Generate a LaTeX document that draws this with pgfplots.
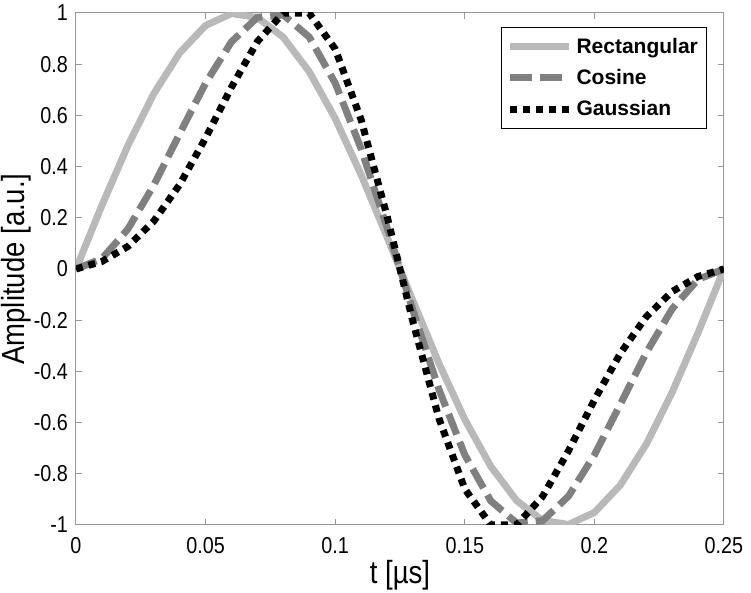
\documentclass[border=0pt]{standalone}
\usepackage{pgfplots}
\pgfplotsset{compat=1.18}
\usepackage{pgfplotstable}
\usepackage{fontspec}
\setmainfont{Liberation Sans}
\newfontfamily\narrowfont{Liberation Sans}[FakeStretch=0.86]
\definecolor{rectc}{RGB}{185,185,185}
\definecolor{cosc}{RGB}{128,128,128}
\definecolor{axc}{RGB}{150,150,150}

\pgfplotstableread{
t y
0 0
0.01 0.2487
0.02 0.4818
0.03 0.6845
0.04 0.8443
0.05 0.9511
0.06 0.9980
0.07 0.9823
0.08 0.9048
0.09 0.7705
0.10 0.5878
0.11 0.3681
0.12 0.1253
0.13 -0.1253
0.14 -0.3681
0.15 -0.5878
0.16 -0.7705
0.17 -0.9048
0.18 -0.9823
0.19 -0.9980
0.20 -0.9511
0.21 -0.8443
0.22 -0.6845
0.23 -0.4818
0.24 -0.2487
0.25 0
}\rectdata

\pgfplotstableread{
t y
0 0
0.01 0.0405
0.02 0.1556
0.03 0.3273
0.04 0.5285
0.05 0.7262
0.06 0.8875
0.07 0.9831
0.08 0.9924
0.09 0.9057
0.10 0.7262
0.11 0.4698
0.12 0.1625
0.13 -0.1625
0.14 -0.4698
0.15 -0.7262
0.16 -0.9057
0.17 -0.9924
0.18 -0.9831
0.19 -0.8875
0.20 -0.7262
0.21 -0.5285
0.22 -0.3273
0.23 -0.1556
0.24 -0.0405
0.25 0
}\cosdata

\pgfplotstableread{
t y
0 0
0.01 0.0293
0.02 0.0880
0.03 0.1866
0.04 0.3297
0.05 0.5117
0.06 0.7105
0.07 0.8888
0.08 1.0000
0.09 0.9993
0.10 0.8595
0.11 0.5831
0.12 0.2066
0.13 -0.2066
0.14 -0.5831
0.15 -0.8595
0.16 -0.9993
0.17 -1.0000
0.18 -0.8888
0.19 -0.7105
0.20 -0.5117
0.21 -0.3297
0.22 -0.1866
0.23 -0.0880
0.24 -0.0293
0.25 0
}\gaussdata

\begin{document}
\begin{tikzpicture}
\path[use as bounding box] (-38pt,-34pt) rectangle (337.5pt,262.5pt);
\begin{axis}[
  scale only axis,
  width=324pt, height=256pt,
  xmin=0, xmax=0.25, ymin=-1, ymax=1,
  xtick={0,0.05,0.1,0.15,0.2,0.25},
  ytick={-1,-0.8,-0.6,-0.4,-0.2,0,0.2,0.4,0.6,0.8,1},
  xticklabels={0,0.05,0.1,0.15,0.2,0.25},
  yticklabels={-1,-0.8,-0.6,-0.4,-0.2,0,0.2,0.4,0.6,0.8,1},
  tick align=inside,
  major tick length=3pt,
  axis line style={draw=axc, line width=0.5pt},
  every tick/.style={draw=axc, line width=0.5pt},
  tick label style={font=\narrowfont\fontsize{11.5}{13}\selectfont, text=black},
  xticklabel style={yshift=-2.5pt},
  yticklabel style={xshift=-0.5pt},
  xlabel={t [µs]},
  ylabel={Amplitude [a.u.]},
  every axis x label/.style={at={(axis description cs:0.5,-0.0977)}, anchor=center,
    font=\narrowfont\fontsize{16}{18}\selectfont},
  every axis y label/.style={at={(axis description cs:-0.093,0.5)}, anchor=center, rotate=90,
    font=\narrowfont\fontsize{16}{18}\selectfont},
  legend cell align=left,
  legend image code/.code={\draw[#1] (0pt,0pt) -- (29.5pt,0pt);},
  legend style={at={(axis description cs:0.9738,0.9727)}, anchor=north east,
    draw=black, line width=0.5pt, fill=white,
    font=\bfseries\fontsize{10.5}{12.5}\selectfont,
    inner xsep=2.5pt, inner ysep=2pt,
    nodes={inner xsep=1.8pt, inner ysep=3.2pt}, column sep=0pt, row sep=0pt},
]
\addplot[rectc, line width=3.5pt, line join=round] table[x=t,y=y] {\rectdata};
\addlegendentry{Rectangular\hspace{2.5pt}}
\addplot[cosc, line width=3.5pt, dash pattern=on 11pt off 4pt] table[x=t,y=y] {\cosdata};
\addlegendentry{Cosine}
\addplot[black, line width=3.5pt, dash pattern=on 3.5pt off 3pt] table[x=t,y=y] {\gaussdata};
\addlegendentry{Gaussian}
\end{axis}
\end{tikzpicture}
\end{document}
